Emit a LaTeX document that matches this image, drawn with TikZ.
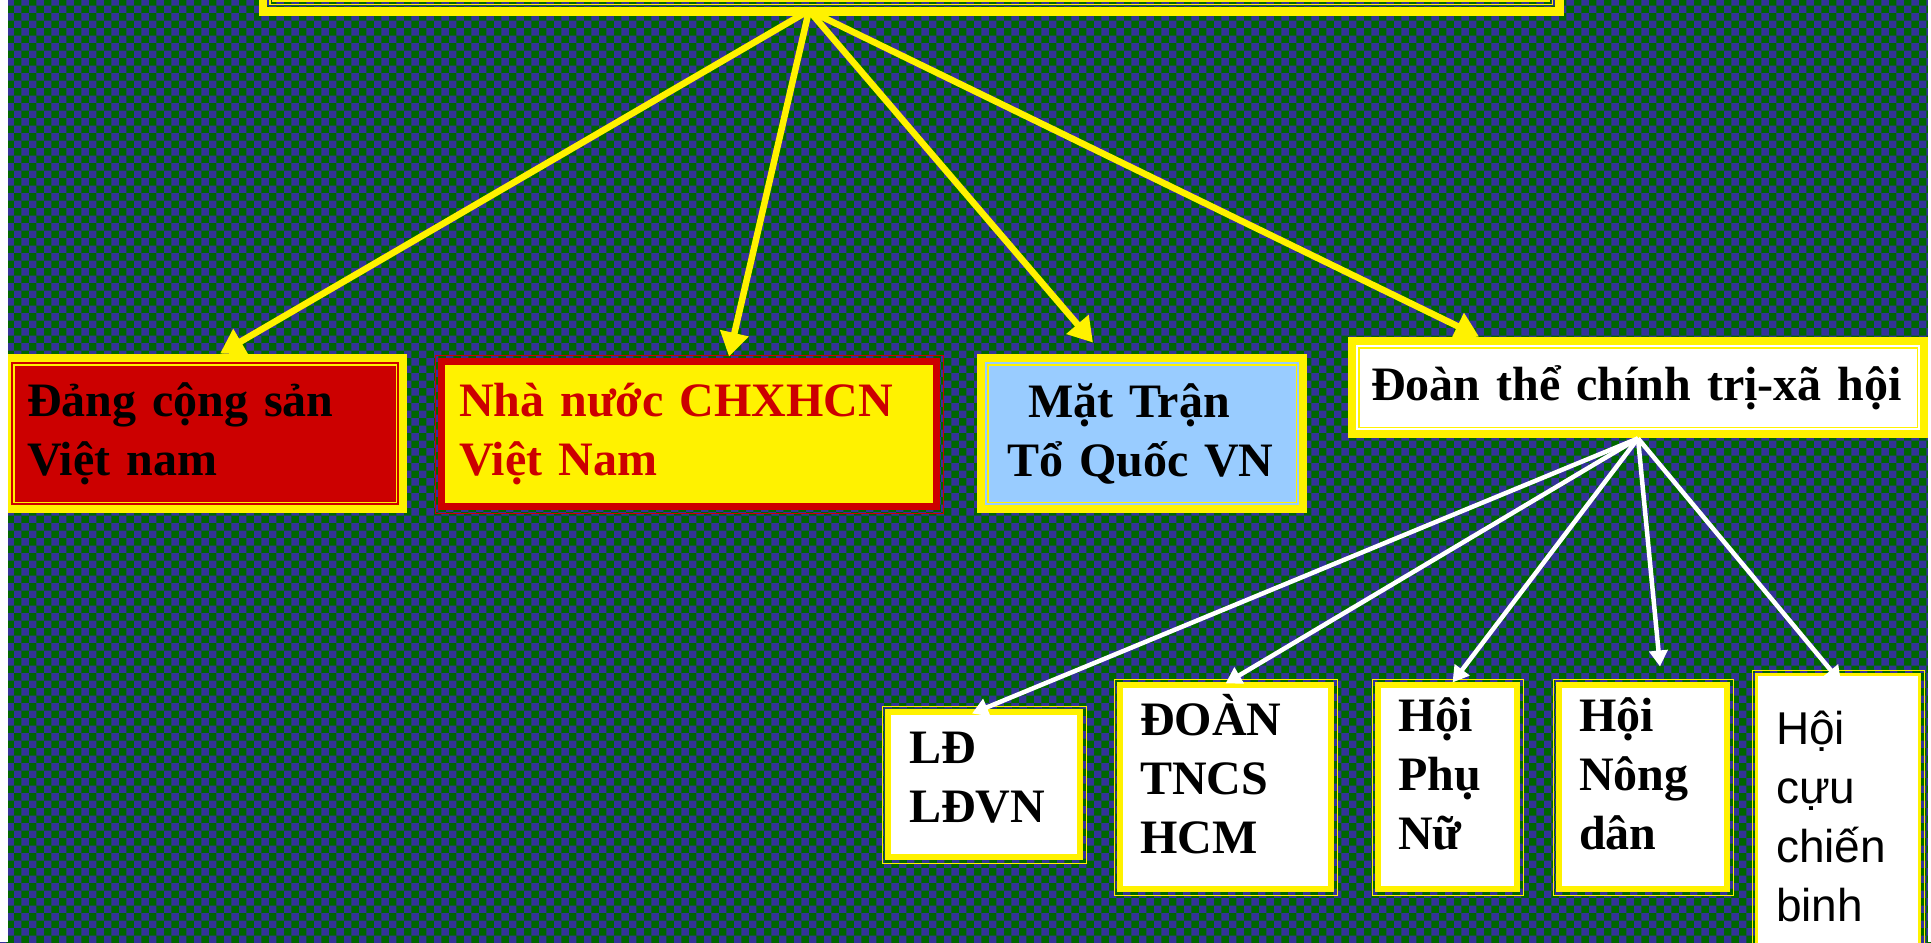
\documentclass[tikz,border=0pt]{standalone}
\usepackage{fontspec}
\setmainfont{Liberation Serif}
\setsansfont{Liberation Sans}
\usetikzlibrary{arrows.meta,patterns.meta}

\definecolor{chkblue}{RGB}{51,51,153}
\definecolor{chkgreen}{RGB}{0,102,0}
\definecolor{boxred}{RGB}{204,0,0}
\definecolor{frontblue}{RGB}{153,204,255}

\tikzdeclarepattern{
  name=checker,
  type=colored,
  bottom left={(0pt,0pt)},
  top right={(7.7pt,7.7pt)},
  tile size={(7.7pt,7.7pt)},
  code={
    \fill[chkgreen] (0pt,0pt) rectangle (7.7pt,7.7pt);
    \fill[chkblue] (0pt,0pt) rectangle (3.85pt,3.85pt);
    \fill[chkblue] (3.85pt,3.85pt) rectangle (7.7pt,7.7pt);
  }
}

\newcommand\insetrect[1]{([shift={(#1,-#1)}]path picture bounding box.north west) rectangle ([shift={(-#1,#1)}]path picture bounding box.south east)}
\newcommand\padbelow[1]{\rule[-#1]{0pt}{#1}}
\newcommand\padabove[1]{\rule{0pt}{#1}}

\tikzset{
  thickthin/.style={fill=yellow, path picture={\fill[#1] \insetrect{4pt}; \draw[yellow, line width=0.75pt] \insetrect{5.375pt};}},
  gapped/.style n args={3}{draw=#1, line width=0.5pt, pattern=checker, path picture={\fill[#1] \insetrect{1.5pt}; \fill[#3] \insetrect{#2};}},
  topframe/.style={draw=yellow, line width=0.5pt, path picture={\draw[yellow, line width=8pt] \insetrect{0pt}; \draw[yellow, line width=0.75pt] \insetrect{5.375pt}; \draw[yellow, line width=0.85pt] \insetrect{7.1pt};}},
  boxtext/.style={font=\fontsize{24pt}{29.5pt}\selectfont\bfseries, align=left, inner sep=0pt},
  yarrow/.style={draw=yellow, line width=3.25pt, -{Triangle[length=12pt,width=14pt]}},
  warrow/.style={draw=white, line width=2.25pt, -{Triangle[length=8pt,width=9pt]}}
}

\begin{document}
\begin{tikzpicture}[x=0.5pt,y=-0.5pt]
\useasboundingbox (0,0) rectangle (1931,942);
\clip (0,0) rectangle (1931,942);
\fill[pattern=checker] (0,0) rectangle (1931,942);

\node[topframe, minimum width=652pt, minimum height=107.5pt] (root) at (911,-92.5) {};
\coordinate (hub) at ([xshift=-51pt,yshift=2.5pt]root.south);

\node[thickthin=boxred, boxtext, minimum width=202pt, minimum height=79.5pt, text width=178pt] (dang) at (205,433.5) {Đảng cộng sản\\Việt nam};
\node[gapped={boxred}{5pt}{yellow}, boxtext, text=boxred, minimum width=254pt, minimum height=79pt, text width=230pt] (nhanuoc) at (689,434) {Nhà nước CHXHCN\\Việt Nam};
\node[thickthin=frontblue, boxtext, minimum width=165pt, minimum height=79.5pt, text width=135pt] (mattran) at (1142,433.5) {\hspace*{10.5pt}Mặt Trận\\Tổ Quốc VN};
\node[thickthin=white, boxtext, minimum width=290pt, minimum height=50.5pt, text width=267pt] (doanthe) at (1638,387.5) {\mbox{Đoàn thể chính trị-xã hội}};

\node[gapped={yellow}{4.5pt}{white}, boxtext, minimum width=102pt, minimum height=78.5pt, text width=75pt] (ld) at (984,784.5) {LĐ\\LĐVN\padbelow{7pt}};
\node[gapped={yellow}{4.5pt}{white}, boxtext, minimum width=111.5pt, minimum height=108pt, text width=85.5pt] (doantn) at (1225.5,787) {ĐOÀN\\TNCS\\HCM\padbelow{13pt}};
\node[gapped={yellow}{4.5pt}{white}, boxtext, minimum width=75.5pt, minimum height=108pt, text width=49.5pt] (phunu) at (1447.5,787) {Hội\\Phụ\\Nữ\padbelow{13pt}};
\node[gapped={yellow}{4.5pt}{white}, boxtext, minimum width=90pt, minimum height=108pt, text width=64pt] (nongdan) at (1643,787) {Hội\\Nông\\dân\padbelow{13pt}};
\node[gapped={yellow}{3pt}{white}, align=left, inner sep=0pt, font=\fontsize{23pt}{29.5pt}\selectfont\sffamily, minimum width=86pt, minimum height=140pt, text width=62pt] (cuu) at (1838,810) {\padabove{23pt}Hội\\cựu\\chiến\\binh};

\draw[yarrow] (hub) -- ([xshift=7.5pt]dang.north);
\draw[yarrow] (hub) -- ([xshift=20pt,yshift=-1pt]nhanuoc.north);
\draw[yarrow] (hub) -- ([xshift=-24.5pt,yshift=5.5pt]mattran.north);
\draw[yarrow] (hub) -- ([xshift=-79.5pt]doanthe.north);

\draw[warrow] (doanthe.south) -- ([xshift=-6pt,yshift=-4pt]ld.north);
\draw[warrow] (doanthe.south) -- ([yshift=-2.5pt]doantn.north);
\draw[warrow] (doanthe.south) -- ([xshift=2.5pt,yshift=-2pt]phunu.north);
\draw[warrow] (doanthe.south) -- ([xshift=8.5pt,yshift=6pt]nongdan.north);
\draw[warrow] (doanthe.south) -- ([xshift=1.5pt,yshift=-6.5pt]cuu.north);

\fill[white] (0,0) rectangle (8,942);
\fill[white] (1928,0) rectangle (1931,942);
\end{tikzpicture}
\end{document}
